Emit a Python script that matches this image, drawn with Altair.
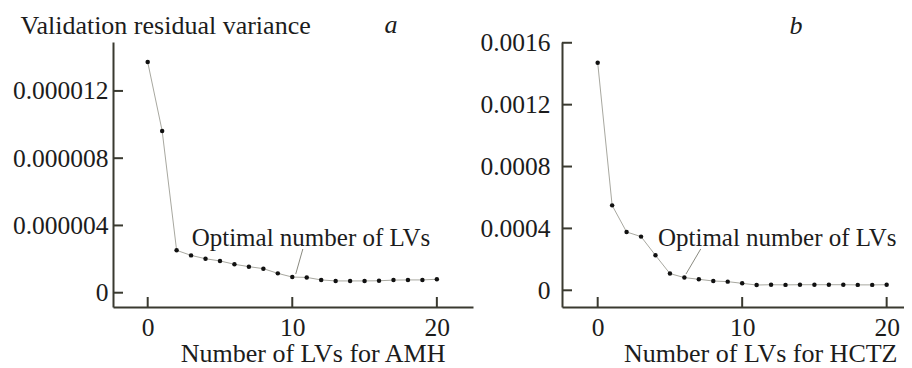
import altair as alt
import pandas as pd

# ---------------- data ----------------
lv = list(range(21))
amh_var = [13.72e-6, 9.62e-6, 2.52e-6, 2.22e-6, 2.02e-6, 1.89e-6, 1.69e-6, 1.55e-6,
           1.43e-6, 1.15e-6, 0.93e-6, 0.91e-6, 0.76e-6, 0.70e-6, 0.70e-6, 0.70e-6,
           0.71e-6, 0.75e-6, 0.76e-6, 0.76e-6, 0.80e-6]
hctz_var = [0.001471, 0.000549, 0.000377, 0.000347, 0.000226, 0.000108, 0.000082,
            0.000071, 0.000060, 0.000056, 0.000045, 0.000034, 0.000036, 0.000035,
            0.000036, 0.000036, 0.000036, 0.000036, 0.000035, 0.000035, 0.000036]

x_ticks = [0, 10, 20]
amh_y_ticks = [0, 0.000004, 0.000008, 0.000012]
hctz_y_ticks = [0, 0.0004, 0.0008, 0.0012, 0.0016]

ann_text = "Optimal number of LVs"
amh_ann = {"lv": [3.04], "v": [2.78e-6]}
hctz_ann = {"lv": [4.17], "v": [2.86e-4]}
amh_ptr = {"lv": [10.73], "v": [2.6e-6], "lv2": [10.24], "v2": [1.11e-6]}
hctz_ptr = {"lv": [7.13], "v": [2.67e-4], "lv2": [6.11], "v2": [1.05e-4]}

FONT = "Liberation Serif"
FS_T = 26      # titles
FS_L = 25.5    # tick labels
FS_A = 25      # annotation
AX = "#3a3a30"
TXT = "#1c1c1c"
H = 265


def panel(values, xdom, ydom, yticks, yfmt, ytitle, xtitle, letter, letter_x, letter_y,
          ann, ptr, width, ylabpad, xtitle_x):
    df = pd.DataFrame({"lv": lv, "v": values})
    xs = alt.Scale(domain=xdom, nice=False, zero=False)
    ys = alt.Scale(domain=ydom, nice=False, zero=False)
    label_expr = "datum.value == 0 ? '0' : format(datum.value, '%s')" % yfmt

    if ytitle:
        yaxis = alt.Axis(values=yticks, labelExpr=label_expr, labelPadding=ylabpad,
                         title=ytitle, titleX=-93, titleY=-9)
    else:
        yaxis = alt.Axis(values=yticks, labelExpr=label_expr, labelPadding=ylabpad,
                         title=None)

    xaxis = alt.Axis(values=x_ticks, title=xtitle, titleX=xtitle_x, titleY=54)

    base = alt.Chart(df)
    line = base.mark_line(color="#a8a8a0", strokeWidth=1).encode(
        x=alt.X("lv:Q", scale=xs, axis=xaxis),
        y=alt.Y("v:Q", scale=ys, axis=yaxis),
    )
    pts = base.mark_circle(size=20, color="#111111", opacity=1).encode(
        x=alt.X("lv:Q", scale=xs), y=alt.Y("v:Q", scale=ys))

    yt = alt.Chart(pd.DataFrame({"v": yticks})).mark_rule(color=AX, strokeWidth=2).encode(
        y=alt.Y("v:Q", scale=ys), x=alt.value(0), x2=alt.value(10))
    xt = alt.Chart(pd.DataFrame({"lv": x_ticks})).mark_rule(color=AX, strokeWidth=2).encode(
        x=alt.X("lv:Q", scale=xs), y=alt.value(H), y2=alt.value(H - 10))

    ptr_l = alt.Chart(pd.DataFrame(ptr)).mark_rule(color="#8a8a80", strokeWidth=1).encode(
        x=alt.X("lv:Q", scale=xs), y=alt.Y("v:Q", scale=ys),
        x2="lv2:Q", y2="v2:Q")
    adf = pd.DataFrame(ann)
    adf["label"] = ann_text
    txt = alt.Chart(adf).mark_text(align="left", baseline="alphabetic", font=FONT,
                                   fontSize=FS_A, color=TXT).encode(
        x=alt.X("lv:Q", scale=xs), y=alt.Y("v:Q", scale=ys), text="label:N")

    let = alt.Chart(pd.DataFrame({"t": [letter]})).mark_text(
        align="center", baseline="alphabetic", font=FONT, fontSize=FS_T,
        fontStyle="italic", color=TXT).encode(
        x=alt.value(letter_x), y=alt.value(letter_y), text="t:N")

    return alt.layer(line, ptr_l, pts, yt, xt, txt, let).properties(width=width, height=H)


left = panel(amh_var, [-2.4, 22.5], [-0.85e-6, 14.91e-6], amh_y_ticks, ".6f",
             "Validation residual variance", "Number of LVs for AMH", "a", 278, -9,
             amh_ann, amh_ptr, 360, 5, 332)
right = panel(hctz_var, [-2.47, 21.2], [-0.000108, 0.001605], hctz_y_ticks, ".4f",
              None, "Number of LVs for HCTZ", "b", 234, -8,
              hctz_ann, hctz_ptr, 342, 12, 335)

chart = alt.HConcatChart(hconcat=[left, right], spacing=89, bounds="flush").properties(
    padding={"left": 4, "top": 4, "right": 0, "bottom": 0}
).configure(
    background="white", font=FONT
).configure_view(
    strokeWidth=0
).configure_axis(
    ticks=False, tickSize=0, grid=False, domainColor=AX, domainWidth=2,
    labelFont=FONT, labelFontSize=FS_L, labelColor=TXT, labelFlush=False,
    titleFont=FONT, titleFontSize=FS_T, titleFontWeight="normal", titleColor=TXT,
).configure_axisX(
    labelPadding=8, titleAlign="right", titleBaseline="alphabetic",
).configure_axisY(
    titleAngle=0, titleAlign="left", titleBaseline="alphabetic",
).configure_text(font=FONT)

chart.save("out.html", embed_options={"renderer": "svg", "actions": False})
